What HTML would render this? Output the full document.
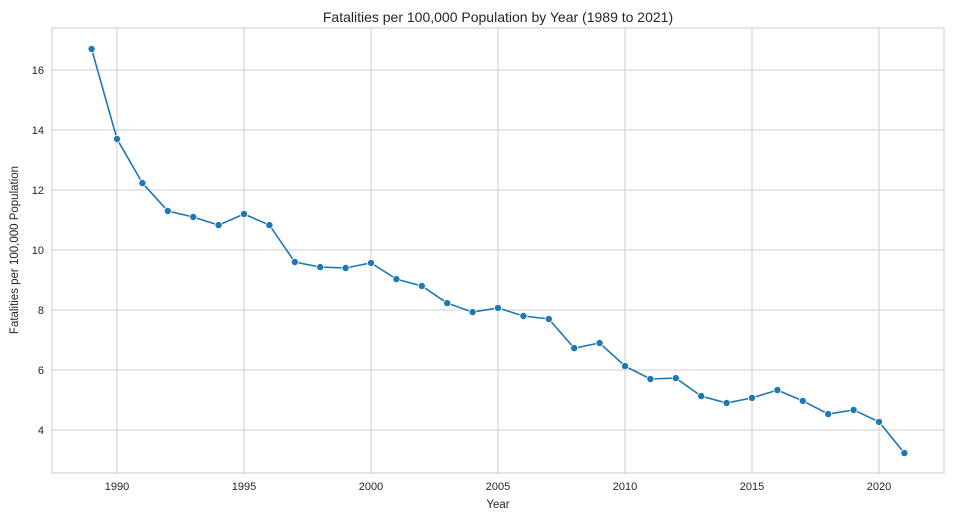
<!DOCTYPE html>
<html><head><meta charset="utf-8"><style>
html,body{margin:0;padding:0;background:#fff;}
svg{display:block;font-family:"Liberation Sans",sans-serif;}
</style></head><body>
<svg id="chart" width="953" height="521">
<text x="498" y="22" text-anchor="middle" font-size="14" fill="#262626">Fatalities per 100,000 Population by Year (1989 to 2021)</text>
<text x="498" y="508" text-anchor="middle" font-size="11.5" fill="#262626">Year</text>
<text transform="translate(18,250) rotate(-90)" text-anchor="middle" font-size="11.5" fill="#262626">Fatalities per 100,000 Population</text>
<g id="grid"></g>
<g id="ticks"></g>
<rect x="52" y="28" width="892" height="445" fill="none" stroke="#cccccc" stroke-width="1"/>
<g id="series"></g>
</svg>
<script>
const years=[1989,1990,1991,1992,1993,1994,1995,1996,1997,1998,1999,2000,2001,2002,2003,2004,2005,2006,2007,2008,2009,2010,2011,2012,2013,2014,2015,2016,2017,2018,2019,2020,2021];
const values=[16.7,13.7,12.23,11.3,11.1,10.83,11.2,10.83,9.6,9.43,9.4,9.57,9.03,8.8,8.23,7.93,8.07,7.8,7.7,6.73,6.9,6.13,5.7,5.73,5.13,4.9,5.07,5.33,4.97,4.53,4.67,4.27,3.23];
const yTicks=[4,6,8,10,12,14,16];
const xTicks=[1990,1995,2000,2005,2010,2015,2020];

const NS="http://www.w3.org/2000/svg";
const xs=y=>117+(y-1990)*25.4;
const ys=v=>430-(v-4)*30;
function mk(tag,attrs,parent){const e=document.createElementNS(NS,tag);for(const k in attrs)e.setAttribute(k,attrs[k]);parent.appendChild(e);return e;}
const grid=document.getElementById('grid'),ticks=document.getElementById('ticks'),series=document.getElementById('series');
yTicks.forEach(t=>{
  const l=mk('line',{x1:52,x2:944,y1:ys(t),y2:ys(t),stroke:'#cccccc','stroke-width':1},grid);
  
  
  const tx=mk('text',{x:44,y:ys(t)+4,'text-anchor':'end','font-size':11,fill:'#262626'},ticks);
  tx.textContent=t;
  
  
});
xTicks.forEach(t=>{
  const l=mk('line',{x1:xs(t),x2:xs(t),y1:28,y2:473,stroke:'#cccccc','stroke-width':1},grid);
  
  
  const tx=mk('text',{x:xs(t),y:490,'text-anchor':'middle','font-size':11,fill:'#262626'},ticks);
  tx.textContent=t;
  
  
});
const pts=years.map((y,i)=>xs(y)+','+ys(values[i])).join(' ');
const line=mk('polyline',{points:pts,fill:'none',stroke:'#1f77b4','stroke-width':1.6},series);


years.forEach((y,i)=>{
  const c=mk('circle',{cx:xs(y),cy:ys(values[i]),r:3.6,fill:'#1f77b4',stroke:'#fff','stroke-width':0.8},series);
  
  
});
</script>
</body></html>
